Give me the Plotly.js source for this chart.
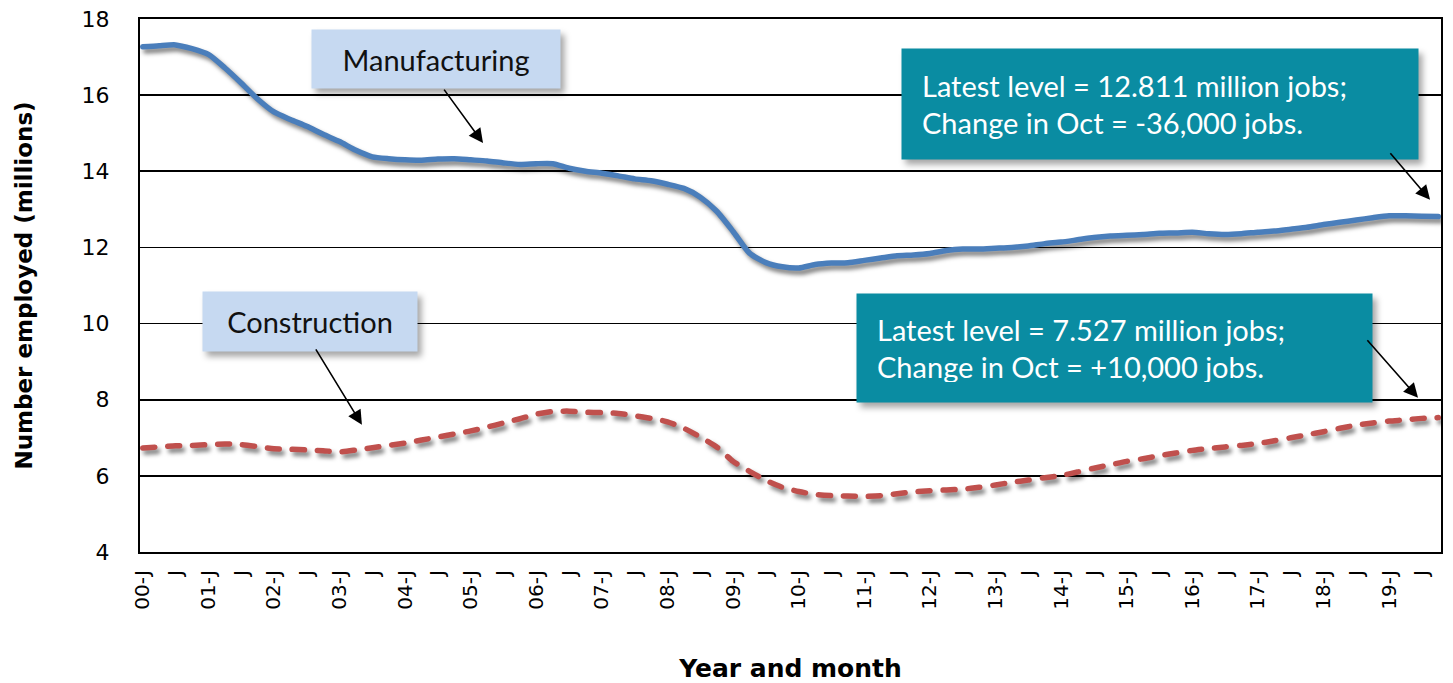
<!DOCTYPE html>
<html>
<head>
<meta charset="utf-8">
<script src="https://cdn.plot.ly/plotly-3.0.1.min.js"></script>
<style>
  html, body { margin: 0; padding: 0; background: #ffffff; }
  #chart { width: 1453px; height: 683px; }
</style>
</head>
<body>
<div id="chart"></div>
<script>
// Quarterly readings (Jan, Apr, Jul, Oct) from Jan 2000 to Oct 2019, millions of jobs
const manufacturing = [
  17.27, 17.30, 17.32, 17.22, 17.07, 16.72, 16.32, 15.90, 15.56, 15.36,
  15.18, 14.97, 14.78, 14.55, 14.38, 14.33, 14.30, 14.29, 14.32, 14.33,
  14.30, 14.27, 14.22, 14.18, 14.20, 14.20, 14.08, 14.00, 13.95, 13.88,
  13.80, 13.75, 13.66, 13.55, 13.32, 12.95, 12.42, 11.85, 11.60, 11.49,
  11.46, 11.55, 11.59, 11.60, 11.66, 11.72, 11.78, 11.80, 11.84, 11.92,
  11.96, 11.96, 11.98, 12.00, 12.04, 12.10, 12.14, 12.20, 12.26, 12.30,
  12.32, 12.34, 12.37, 12.38, 12.40, 12.36, 12.34, 12.36, 12.40, 12.43,
  12.48, 12.53, 12.60, 12.66, 12.72, 12.78, 12.83, 12.83, 12.82, 12.81
];
const construction = [
  6.73, 6.76, 6.79, 6.80, 6.82, 6.84, 6.82, 6.77, 6.71, 6.70,
  6.68, 6.66, 6.63, 6.68, 6.74, 6.80, 6.86, 6.94, 7.02, 7.10,
  7.18, 7.28, 7.39, 7.50, 7.62, 7.69, 7.70, 7.67, 7.66, 7.64,
  7.58, 7.51, 7.42, 7.25, 7.02, 6.76, 6.38, 6.12, 5.88, 5.70,
  5.59, 5.51, 5.48, 5.47, 5.46, 5.48, 5.53, 5.58, 5.61, 5.63,
  5.65, 5.70, 5.76, 5.83, 5.89, 5.95, 6.01, 6.10, 6.20, 6.29,
  6.38, 6.45, 6.53, 6.60, 6.67, 6.72, 6.76, 6.80, 6.85, 6.92,
  7.00, 7.08, 7.16, 7.25, 7.33, 7.39, 7.44, 7.47, 7.51, 7.53
];
const tickLabels = [
  "00-J","J","01-J","J","02-J","J","03-J","J","04-J","J",
  "05-J","J","06-J","J","07-J","J","08-J","J","09-J","J",
  "10-J","J","11-J","J","12-J","J","13-J","J","14-J","J",
  "15-J","J","16-J","J","17-J","J","18-J","J","19-J","J"
];
const seriesNames = ["Manufacturing", "Construction"];
const mfgNote = "Latest level = 12.811 million jobs;<br>Change in Oct = -36,000 jobs.";
const conNote = "Latest level = 7.527 million jobs;<br>Change in Oct = +10,000 jobs.";

// month index of each quarterly reading (0 = Jan 2000)
const monthIdx = manufacturing.map((_, i) => i * 3);
const tickVals = tickLabels.map((_, i) => i * 6);

const traces = [
  {
    x: monthIdx, y: manufacturing, name: seriesNames[0], type: "scatter", mode: "lines",
    line: { color: "#4a7ebb", width: 5.5, shape: "spline", smoothing: 0.6 },
    hoverinfo: "skip"
  },
  {
    x: monthIdx, y: construction, name: seriesNames[1], type: "scatter", mode: "lines",
    line: { color: "#c0504d", width: 5.5, shape: "spline", smoothing: 0.6, dash: "12px,13px" },
    hoverinfo: "skip"
  }
];

const labelFont = { family: "Lato, 'Open Sans', sans-serif", size: 29, color: "#111111" };
const noteFont = { family: "Lato, 'Open Sans', sans-serif", size: 29, color: "#ffffff" };
const arrowCommon = { text: "", showarrow: true, arrowhead: 2, arrowsize: 1.8, arrowwidth: 1.6,
  arrowcolor: "#000000", xref: "x", yref: "y", axref: "pixel", ayref: "pixel" };

const layout = {
  width: 1453, height: 683,
  margin: { l: 140, r: 12, t: 19, b: 131 },
  paper_bgcolor: "#ffffff", plot_bgcolor: "#ffffff",
  showlegend: false,
  xaxis: {
    range: [-0.5, 237.5],
    tickmode: "array", tickvals: tickVals, ticktext: tickLabels,
    tickangle: -90, ticks: "", ticklabelstandoff: 8,
    tickfont: { family: "'DejaVu Sans', sans-serif", size: 20, color: "#000" },
    showgrid: false, zeroline: false,
    showline: true, linecolor: "#000", linewidth: 2, mirror: true,
    title: { text: "Year and month", standoff: 53,
      font: { family: "'DejaVu Sans', sans-serif", size: 25, color: "#000", weight: "bold" } }
  },
  yaxis: {
    range: [4, 18], dtick: 2, tick0: 4,
    ticks: "", ticklabelstandoff: 24,
    tickfont: { family: "'DejaVu Sans', sans-serif", size: 22, color: "#000" },
    showgrid: true, gridcolor: "#000", gridwidth: 1.6,
    zeroline: false,
    showline: true, linecolor: "#000", linewidth: 2, mirror: true,
    title: { text: "Number employed (millions)", standoff: 43,
      font: { family: "'DejaVu Sans', sans-serif", size: 23, color: "#000", weight: "bold" } }
  },
  annotations: [
    { text: seriesNames[0], x: 53.65, y: 16.95, xref: "x", yref: "y", showarrow: false,
      xanchor: "center", yanchor: "middle",
      width: 248, height: 58, borderpad: 0, bgcolor: "#c6d9f1", align: "center", valign: "middle",
      font: labelFont },
    { text: seriesNames[1], x: 30.6, y: 10.05, xref: "x", yref: "y", showarrow: false,
      xanchor: "center", yanchor: "middle",
      width: 214, height: 59, borderpad: 0, bgcolor: "#c6d9f1", align: "center", valign: "middle",
      font: labelFont },
    { text: mfgNote, x: 186.1, y: 15.77, xref: "x", yref: "y", showarrow: false,
      xanchor: "center", yanchor: "middle",
      width: 476, height: 70, borderpad: 20, bgcolor: "#0a8ca2", align: "left", valign: "middle",
      font: noteFont },
    { text: conNote, x: 177.7, y: 9.36, xref: "x", yref: "y", showarrow: false,
      xanchor: "center", yanchor: "middle",
      width: 475, height: 68, borderpad: 20, bgcolor: "#0a8ca2", align: "left", valign: "middle",
      font: noteFont },
    Object.assign({ x: 62.25, y: 14.74, ax: -40, ay: -55 }, arrowCommon),
    Object.assign({ x: 40.1, y: 7.34, ax: -47, ay: -77 }, arrowCommon),
    Object.assign({ x: 235.5, y: 13.25, ax: -41, ay: -48 }, arrowCommon),
    Object.assign({ x: 233.3, y: 8.05, ax: -52, ay: -59 }, arrowCommon)
  ]
};

Plotly.newPlot("chart", traces, layout, { staticPlot: true, displayModeBar: false }).then(function (gd) {
  gd.querySelectorAll(".scatterlayer .trace path.js-line").forEach(function (p) {
    p.style.filter = "drop-shadow(3px 4px 2px rgba(0,0,0,0.5))";
    p.style.strokeLinecap = "round";
  });
  gd.querySelectorAll(".annotation rect.bg").forEach(function (r) {
    r.style.filter = "drop-shadow(4px 5px 3px rgba(0,0,0,0.35))";
  });
});
</script>
</body>
</html>
